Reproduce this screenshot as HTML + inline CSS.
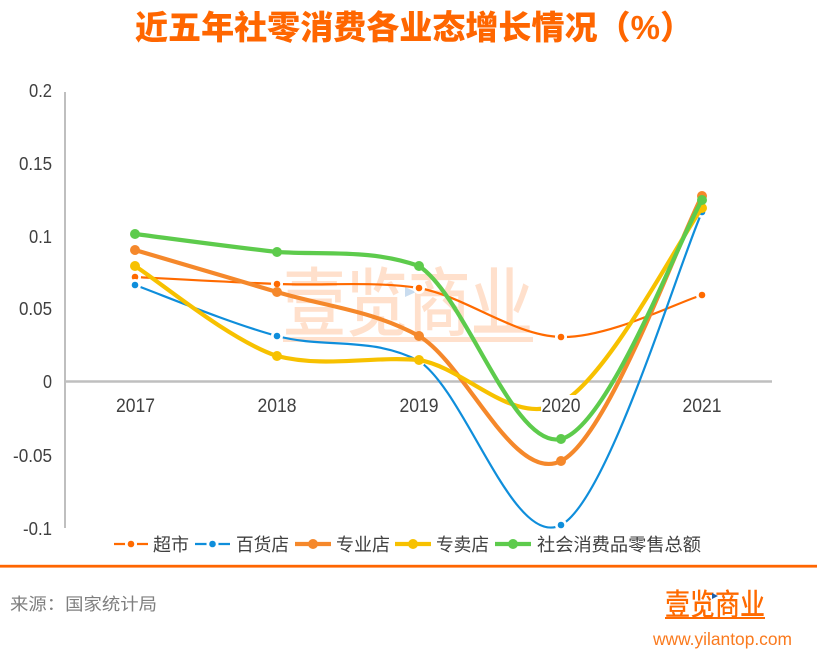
<!DOCTYPE html>
<html><head><meta charset="utf-8"><style>
html,body{margin:0;padding:0;background:#fff;}
svg{display:block;}
text{font-family:"Liberation Sans","Noto Sans CJK SC",sans-serif;}
.cjk{font-family:"Liberation Sans","Noto Sans CJK SC",sans-serif;}
</style></head><body>
<svg width="817" height="656" viewBox="0 0 817 656" xmlns="http://www.w3.org/2000/svg">
<rect width="817" height="656" fill="#fff"/>
<!-- Title -->
<text class="cjk" x="135" y="39" font-size="33" font-weight="900" fill="#FF6600" textLength="558" lengthAdjust="spacingAndGlyphs">近五年社零消费各业态增长情况（%）</text>

<!-- watermark -->
<g transform="translate(283,330) scale(1,1.25)">
<text class="cjk" x="0" y="0" font-size="60" font-weight="500" fill="#FFE0CC" textLength="250" lengthAdjust="spacingAndGlyphs">壹览商业</text>
</g>
<rect x="283" y="337" width="250" height="5" fill="#FFE0CC"/>
<polygon points="405,287 416,292 405,297" fill="#C9DCEF"/>

<!-- axes -->
<line x1="65" y1="92" x2="65" y2="528" stroke="#BFBFBF" stroke-width="2"/>
<line x1="64" y1="381.5" x2="772" y2="381.5" stroke="#BFBFBF" stroke-width="2.5"/>

<!-- y labels -->
<g font-size="18.5" fill="#404040" text-anchor="end">
<text x="52" y="97" textLength="23" lengthAdjust="spacingAndGlyphs">0.2</text>
<text x="52" y="170" textLength="33" lengthAdjust="spacingAndGlyphs">0.15</text>
<text x="52" y="243" textLength="23" lengthAdjust="spacingAndGlyphs">0.1</text>
<text x="52" y="315" textLength="33" lengthAdjust="spacingAndGlyphs">0.05</text>
<text x="52" y="388" textLength="9" lengthAdjust="spacingAndGlyphs">0</text>
<text x="52" y="462" textLength="39" lengthAdjust="spacingAndGlyphs">-0.05</text>
<text x="52" y="535" textLength="29" lengthAdjust="spacingAndGlyphs">-0.1</text>
</g>

<!-- series -->
<path d="M135,277 C158.7,278.2 229.7,282.2 277,284 C324.3,285.8 371.7,281 419,288 C466.3,296.8 513.7,335.8 561,337 C608.2,338.2 678.5,302 702,295" fill="none" stroke="#FF6A00" stroke-width="2.2"/>
<g>
<circle cx="135" cy="277" r="6" fill="#fff"/><circle cx="277" cy="284" r="6" fill="#fff"/><circle cx="419" cy="288" r="6" fill="#fff"/><circle cx="561" cy="337" r="6" fill="#fff"/><circle cx="702" cy="295" r="6" fill="#fff"/>
<g fill="#FF6A00"><circle cx="135" cy="277" r="3.3"/><circle cx="277" cy="284" r="3.3"/><circle cx="419" cy="288" r="3.3"/><circle cx="561" cy="337" r="3.3"/><circle cx="702" cy="295" r="3.3"/></g>
</g>
<path d="M135,285 C158.7,293.5 229.7,323.3 277,336 C324.3,348.7 371.7,336 419,361 C466.3,392.5 513.7,549.8 561,525 C608.2,500.2 678.5,264.2 702,212" fill="none" stroke="#0F8EDB" stroke-width="2.2"/>
<g>
<circle cx="135" cy="285" r="6" fill="#fff"/><circle cx="277" cy="336" r="6" fill="#fff"/><circle cx="419" cy="361" r="6" fill="#fff"/><circle cx="561" cy="525" r="6" fill="#fff"/><circle cx="702" cy="212" r="6" fill="#fff"/>
<g fill="#0F8EDB"><circle cx="135" cy="285" r="3.3"/><circle cx="277" cy="336" r="3.3"/><circle cx="419" cy="361" r="3.3"/><circle cx="561" cy="525" r="3.3"/><circle cx="702" cy="212" r="3.3"/></g>
</g>

<path d="M135,250 C158.7,257 229.7,277.7 277,292 C324.3,306.3 371.7,310 419,336 C466.3,364.2 513.7,484.3 561,461 C608.2,437.7 678.5,240.2 702,196" fill="none" stroke="#F5882B" stroke-width="4.2"/>
<g fill="#F5882B"><circle cx="135" cy="250" r="5"/><circle cx="277" cy="292" r="5"/><circle cx="419" cy="336" r="5"/><circle cx="561" cy="461" r="5"/><circle cx="702" cy="196" r="5"/></g>

<path d="M135,266 C158.7,281 229.7,340.3 277,356 C324.3,368 371.7,356 419,360 C466.3,367.8 513.7,428.3 561,403 C608.2,377.7 678.5,240.5 702,208" fill="none" stroke="#F7C100" stroke-width="4.2"/>
<g fill="#F7C100"><circle cx="135" cy="266" r="5"/><circle cx="277" cy="356" r="5"/><circle cx="419" cy="360" r="5"/><circle cx="561" cy="403" r="5"/><circle cx="702" cy="208" r="5"/></g>

<path d="M135,234 C158.7,237 229.7,246.7 277,252 C324.3,255 371.7,249 419,266 C466.3,297.2 513.7,450 561,439 C608.2,428 678.5,239.8 702,200" fill="none" stroke="#5DCB4C" stroke-width="4.2"/>
<g fill="#5DCB4C"><circle cx="135" cy="234" r="5"/><circle cx="277" cy="252" r="5"/><circle cx="419" cy="266" r="5"/><circle cx="561" cy="439" r="5"/><circle cx="702" cy="200" r="5"/></g>

<!-- x labels -->
<rect x="541" y="395" width="40" height="20" fill="#fff"/>
<g font-size="19.5" fill="#404040" text-anchor="middle">
<text x="135.5" y="412" textLength="39" lengthAdjust="spacingAndGlyphs">2017</text>
<text x="277" y="412" textLength="39" lengthAdjust="spacingAndGlyphs">2018</text>
<text x="419" y="412" textLength="39" lengthAdjust="spacingAndGlyphs">2019</text>
<text x="561" y="412" textLength="39" lengthAdjust="spacingAndGlyphs">2020</text>
<text x="702" y="412" textLength="39" lengthAdjust="spacingAndGlyphs">2021</text>
</g>

<!-- legend -->
<g>
<line x1="114" y1="544" x2="148" y2="544" stroke="#FF6A00" stroke-width="2.2"/>
<circle cx="131" cy="544" r="6" fill="#fff"/><circle cx="131" cy="544" r="3.3" fill="#FF6A00"/>
<line x1="195" y1="544" x2="230" y2="544" stroke="#0F8EDB" stroke-width="2.2"/>
<circle cx="212.5" cy="544" r="6" fill="#fff"/><circle cx="212.5" cy="544" r="3.3" fill="#0F8EDB"/>
<line x1="295" y1="544" x2="331" y2="544" stroke="#F5882B" stroke-width="4.2"/>
<circle cx="313" cy="544" r="5" fill="#F5882B"/>
<line x1="395" y1="544" x2="431" y2="544" stroke="#F7C100" stroke-width="4.2"/>
<circle cx="413" cy="544" r="5" fill="#F7C100"/>
<line x1="495" y1="544" x2="531" y2="544" stroke="#5DCB4C" stroke-width="4.2"/>
<circle cx="513" cy="544" r="5" fill="#5DCB4C"/>
<g class="cjk" font-size="18" fill="#404040">
<text x="153" y="551" textLength="36" lengthAdjust="spacingAndGlyphs">超市</text>
<text x="236" y="551" textLength="53" lengthAdjust="spacingAndGlyphs">百货店</text>
<text x="336" y="551" textLength="54" lengthAdjust="spacingAndGlyphs">专业店</text>
<text x="436" y="551" textLength="53" lengthAdjust="spacingAndGlyphs">专卖店</text>
<text x="537" y="551" textLength="164" lengthAdjust="spacingAndGlyphs">社会消费品零售总额</text>
</g>
</g>

<!-- separator -->
<rect x="0" y="564.8" width="817" height="2.8" fill="#FF6600"/>

<!-- footer -->
<text class="cjk" x="10" y="610" font-size="17" fill="#7F7F7F" textLength="147" lengthAdjust="spacingAndGlyphs">来源：国家统计局</text>
<g transform="translate(665,615) scale(1,1.2)">
<text class="cjk" x="0" y="0" font-size="25" font-weight="500" fill="#FF6A00" textLength="100" lengthAdjust="spacingAndGlyphs">壹览商业</text>
</g>
<rect x="665" y="617" width="100" height="2" fill="#FF6A00"/>
<polygon points="712,593 718,596 712,599" fill="#1F5FA8"/>
<text x="653" y="645" font-size="17.5" fill="#FA7A1E" textLength="139" lengthAdjust="spacingAndGlyphs">www.yilantop.com</text>
</svg>
</body></html>
